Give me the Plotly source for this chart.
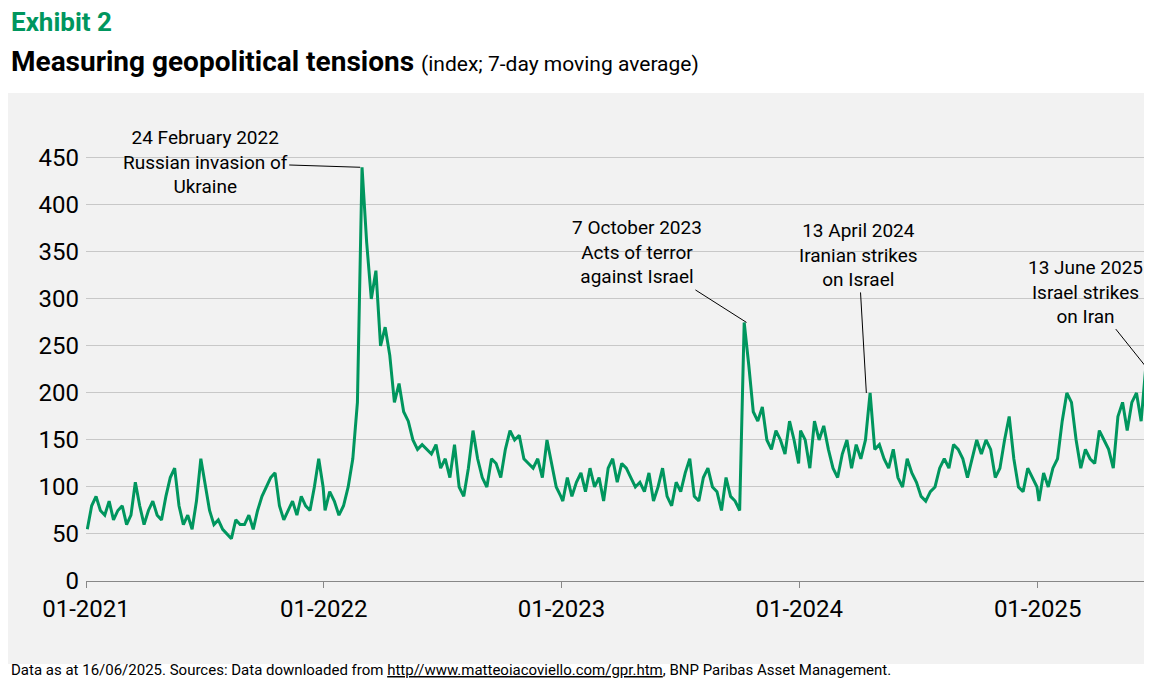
import numpy as np
import pandas as pd
import plotly.graph_objects as go

# weekly readings of the 7-day moving average, Jan 2021 - mid Jun 2025
gpr_2021 = [55, 80, 90, 75, 70, 85, 65, 75, 80, 60, 70, 105, 80, 60, 75, 85, 70,
            65, 90, 110, 120, 80, 60, 70, 55, 85, 130, 100, 75, 60, 65, 55, 50, 45,
            65, 60, 60, 70, 55, 75, 90, 100, 110, 115, 80, 65, 75, 85, 70, 90, 80,
            75, 100, 130, 100]
gpr_2022 = [75, 95, 85, 70, 80, 100, 130, 190, 440, 360, 300, 330, 250, 270, 240,
            190, 210, 180, 170, 150, 140, 145, 140, 135, 145, 120, 130, 110, 145,
            100, 90, 120, 160, 130, 110, 100, 130, 125, 110, 140, 160, 150, 155,
            130, 125, 120, 130, 110, 150, 125, 100, 90]
gpr_2023 = [85, 110, 90, 105, 115, 95, 120, 100, 110, 85, 120, 130, 105, 125, 120,
            110, 100, 105, 95, 115, 85, 100, 120, 90, 80, 105, 95, 115, 130, 90, 85,
            110, 120, 100, 95, 75, 110, 90, 85, 75, 275, 230, 180, 170, 185, 150,
            140, 160, 150, 135, 170, 150, 125]
gpr_2024 = [160, 150, 120, 170, 150, 165, 140, 120, 110, 135, 150, 120, 145, 130,
            150, 200, 140, 145, 130, 120, 140, 110, 100, 130, 115, 105, 90, 85, 95,
            100, 120, 130, 120, 145, 140, 130, 110, 130, 150, 135, 150, 140, 110,
            120, 150, 175, 130, 100, 95, 120, 110, 100]
gpr_2025 = [85, 115, 100, 120, 130, 170, 200, 190, 150, 120, 140, 130, 125, 160,
            150, 140, 120, 175, 190, 160, 190, 200, 170, 228]

year_series = [(2021, gpr_2021, "2021-12-31"), (2022, gpr_2022, "2022-12-31"),
               (2023, gpr_2023, "2023-12-31"), (2024, gpr_2024, "2024-12-31"),
               (2025, gpr_2025, "2025-06-16")]
dates, values = [], []
for yr, vals, end in year_series:
    start = pd.Timestamp(f"{yr}-01-03")
    d = pd.to_datetime(np.linspace(start.value, pd.Timestamp(end).value, len(vals)))
    dates.extend(d)
    values.extend(vals)

green = "#00965e"
font = "Roboto"

fig = go.Figure()
fig.add_scatter(x=dates, y=values, mode="lines", line=dict(color=green, width=3),
                showlegend=False, hoverinfo="skip", cliponaxis=False)

fig.add_shape(type="rect", xref="paper", yref="paper", x0=-0.075, x1=1.008,
              y0=-0.195, y1=1.148, fillcolor="#f2f2f2", line_width=0, layer="below")

notes = [
    ("2022-02-26", 440, "24 February 2022<br>Russian invasion of<br>Ukraine", -155, -5),
    ("2023-10-12", 275, "7 October 2023<br>Acts of terror<br>against Israel", -110, -70),
    ("2024-04-13", 200, "13 April 2024<br>Iranian strikes<br>on Israel", -8, -138),
    ("2025-06-16", 228, "13 June 2025<br>Israel strikes<br>on Iran", -60, -75),
]
for x, y, txt, ax, ay in notes:
    fig.add_annotation(x=x, y=y, text=txt, showarrow=True, arrowhead=0, arrowwidth=1,
                       arrowcolor="black", ax=ax, ay=ay,
                       font=dict(family=font, size=19, color="black"))

fig.add_annotation(xref="paper", yref="paper", x=-0.072, y=1.355, xanchor="left",
                   text="<b>Exhibit 2</b>", showarrow=False,
                   font=dict(family=font, size=26, color=green))
fig.add_annotation(xref="paper", yref="paper", x=-0.072, y=1.265, xanchor="left",
                   text="<b>Measuring geopolitical tensions</b> <span style='font-size:21px'>(index; 7-day moving average)</span>",
                   showarrow=False, font=dict(family=font, size=28, color="black"))
fig.add_annotation(xref="paper", yref="paper", x=-0.072, y=-0.235, xanchor="left",
                   text="Data as at 16/06/2025. Sources: Data downloaded from <u>http//www.matteoiacoviello.com/gpr.htm</u>, BNP Paribas Asset Management.",
                   showarrow=False, font=dict(family=font, size=15, color="black"))

fig.update_layout(
    width=1152, height=685, paper_bgcolor="white", plot_bgcolor="#f2f2f2",
    margin=dict(l=78, r=9, t=148, b=112),
    font=dict(family=font, color="black"),
    xaxis=dict(range=["2021-01-01", "2025-06-24"], tickformat="%m-%Y", dtick="M12",
               tick0="2021-01-01", showgrid=False, ticks="outside", ticklen=6,
               tickcolor="#888", showline=True, linecolor="#888", automargin=False,
               tickfont=dict(size=24), zeroline=False),
    yaxis=dict(range=[0, 452], dtick=50, gridcolor="#c8c8c8", zeroline=False,
               tickfont=dict(size=24), ticklabelstandoff=6, automargin=False),
)

fig.write_html("out.html")
